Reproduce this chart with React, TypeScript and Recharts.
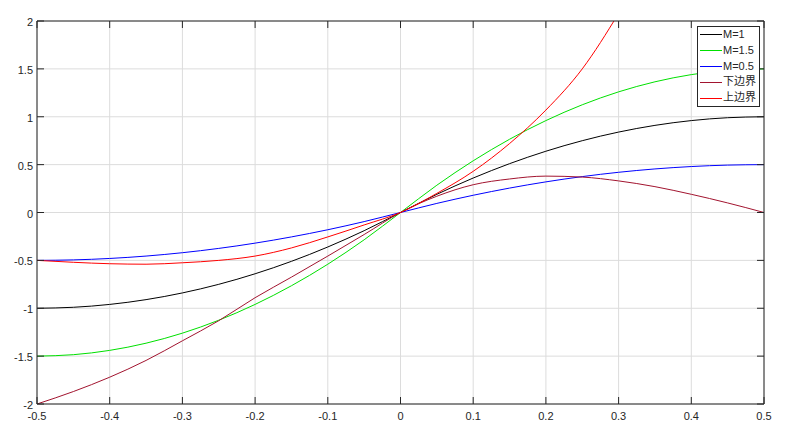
import React from 'react';
import { LineChart, Line, XAxis, YAxis, CartesianGrid, Legend } from 'recharts';

const xValues = [-0.5, -0.45, -0.4, -0.35, -0.3, -0.25, -0.2, -0.15, -0.1, -0.05, 0, 0.05, 0.1, 0.15, 0.2, 0.25, 0.3, 0.35, 0.4, 0.45, 0.5];
const m1 = [-1, -0.99, -0.96, -0.91, -0.84, -0.75, -0.64, -0.51, -0.36, -0.19, 0, 0.19, 0.36, 0.51, 0.64, 0.75, 0.84, 0.91, 0.96, 0.99, 1];
const m15 = [-1.5, -1.485, -1.44, -1.365, -1.26, -1.125, -0.96, -0.765, -0.54, -0.285, 0, 0.285, 0.54, 0.765, 0.96, 1.125, 1.26, 1.365, 1.44, 1.485, 1.5];
const m05 = [-0.5, -0.495, -0.48, -0.455, -0.42, -0.375, -0.32, -0.255, -0.18, -0.095, 0, 0.095, 0.18, 0.255, 0.32, 0.375, 0.42, 0.455, 0.48, 0.495, 0.5];
const lowerBound = [-2, -1.87, -1.72, -1.545, -1.34, -1.13, -0.89, -0.675, -0.455, -0.23, 0, 0.17, 0.29, 0.35, 0.38, 0.37, 0.33, 0.27, 0.19, 0.1, 0];
const upperBound: (number | null)[] = [-0.5, -0.52, -0.535, -0.54, -0.525, -0.5, -0.455, -0.37, -0.255, -0.13, 0, 0.2, 0.43, 0.72, 1.07, 1.5, 2.08, 2.75, null, null, null];

const seriesKeys = ['m1', 'm15', 'm05', 'lower', 'upper'];
const seriesNames = ['M=1', 'M=1.5', 'M=0.5', '下边界', '上边界'];
const seriesColors = ['#000000', '#00e000', '#0000ff', '#a2142f', '#ff0000'];

const xTicks = [-0.5, -0.4, -0.3, -0.2, -0.1, 0, 0.1, 0.2, 0.3, 0.4, 0.5];
const yTicks = [-2, -1.5, -1, -0.5, 0, 0.5, 1, 1.5, 2];

const data = xValues.map((x, i) => ({
  x,
  m1: m1[i],
  m15: m15[i],
  m05: m05[i],
  lower: lowerBound[i],
  upper: upperBound[i],
}));

const AXIS = '#262626';
const FONT = "'Liberation Sans', Arial, 'Noto Sans CJK SC', sans-serif";
const TICK_LEN = 7;

const BottomTick = (props: any) => {
  const { x, y, payload } = props;
  return (
    <g>
      <line x1={x} x2={x} y1={y} y2={y - TICK_LEN} stroke={AXIS} strokeWidth={1} />
      <text x={x} y={y + 16} textAnchor="middle" fill={AXIS} fontSize={11} fontFamily={FONT}>
        {String(payload.value)}
      </text>
    </g>
  );
};

const TopTick = (props: any) => {
  const { x, y } = props;
  return <line x1={x} x2={x} y1={y} y2={y + TICK_LEN} stroke={AXIS} strokeWidth={1} />;
};

const LeftTick = (props: any) => {
  const { x, y, payload } = props;
  return (
    <g>
      <line x1={x} x2={x + TICK_LEN} y1={y} y2={y} stroke={AXIS} strokeWidth={1} />
      <text x={x - 4} y={y + 5} textAnchor="end" fill={AXIS} fontSize={11} fontFamily={FONT}>
        {String(payload.value)}
      </text>
    </g>
  );
};

const RightTick = (props: any) => {
  const { x, y } = props;
  return <line x1={x} x2={x - TICK_LEN} y1={y} y2={y} stroke={AXIS} strokeWidth={1} />;
};

const renderLegend = (props: any) => {
  const payload = [...(props.payload || [])].sort(
    (a: any, b: any) => seriesNames.indexOf(a.value) - seriesNames.indexOf(b.value)
  );
  return (
    <div
      style={{
        border: `1px solid ${AXIS}`,
        background: '#fff',
        padding: '0 3px 0 2px',
        fontFamily: FONT,
        fontSize: 11,
        color: AXIS,
        display: 'inline-block',
      }}
    >
      {payload.map((e: any) => (
        <div key={e.value} style={{ display: 'flex', alignItems: 'center', height: 15.8, whiteSpace: 'nowrap' }}>
          <svg width={22} height={3} style={{ display: 'block' }}>
            <line x1={0} x2={22} y1={1.5} y2={1.5} stroke={e.color} strokeWidth={1} />
          </svg>
          <span style={{ marginLeft: 1, lineHeight: '15.8px' }}>{e.value}</span>
        </div>
      ))}
    </div>
  );
};

export default function App() {
  return (
    <div style={{ position: 'absolute', left: 0, top: 0, width: 796, height: 446, background: '#fff' }}>
      <LineChart width={796} height={446} data={data} margin={{ top: 0, right: 0, bottom: 0, left: 0 }}>
        <CartesianGrid stroke="#dcdcdc" strokeWidth={1} />
        <XAxis
          dataKey="x"
          type="number"
          domain={[-0.5, 0.5]}
          ticks={xTicks}
          interval={0}
          height={42}
          tickSize={0}
          tickMargin={0}
          tickLine={false}
          axisLine={{ stroke: AXIS }}
          tick={<BottomTick />}
        />
        <XAxis
          xAxisId="top"
          orientation="top"
          dataKey="x"
          type="number"
          domain={[-0.5, 0.5]}
          ticks={xTicks}
          interval={0}
          height={21}
          tickSize={0}
          tickMargin={0}
          tickLine={false}
          axisLine={{ stroke: AXIS }}
          tick={<TopTick />}
        />
        <YAxis
          type="number"
          domain={[-2, 2]}
          ticks={yTicks}
          interval={0}
          width={37}
          allowDataOverflow
          tickSize={0}
          tickMargin={0}
          tickLine={false}
          axisLine={{ stroke: AXIS }}
          tick={<LeftTick />}
        />
        <YAxis
          yAxisId="right"
          orientation="right"
          type="number"
          domain={[-2, 2]}
          ticks={yTicks}
          interval={0}
          width={32}
          allowDataOverflow
          tickSize={0}
          tickMargin={0}
          tickLine={false}
          axisLine={{ stroke: AXIS }}
          tick={<RightTick />}
        />
        {seriesKeys.map((k, i) => (
          <Line
            key={k}
            type="monotone"
            dataKey={k}
            name={seriesNames[i]}
            stroke={seriesColors[i]}
            strokeWidth={1}
            dot={false}
            isAnimationActive={false}
          />
        ))}
        <Legend
          content={renderLegend}
          layout="vertical"
          align="center"
          verticalAlign="middle"
          wrapperStyle={{ left: 697, top: 26, width: 'auto', height: 'auto' }}
        />
      </LineChart>
    </div>
  );
}
